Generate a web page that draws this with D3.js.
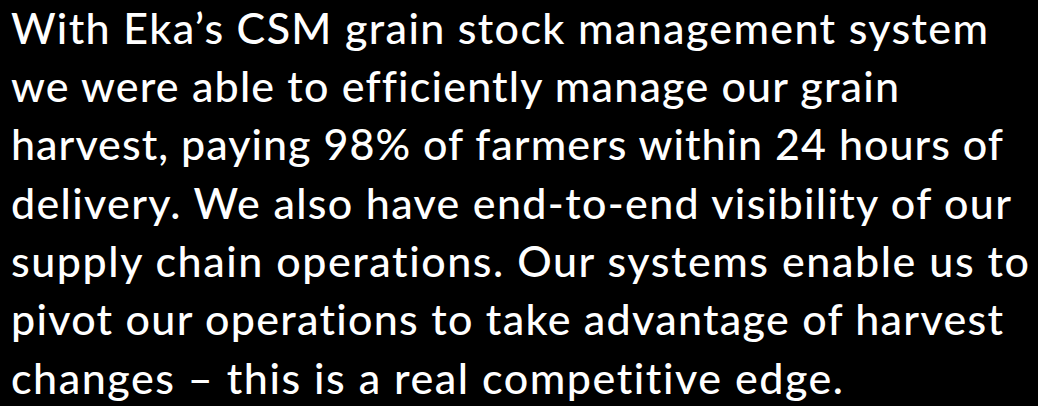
<!DOCTYPE html>
<html>
<head>
<meta charset="utf-8">
<script src="https://cdn.jsdelivr.net/npm/d3@7/dist/d3.min.js"></script>
<style>
  html, body { margin: 0; padding: 0; background: #000; }
  svg { display: block; }
</style>
</head>
<body>
<div id="chart"></div>
<script>
// Text lines of the quote (content)
const lines = [
  "With Eka\u2019s CSM grain stock management system",
  "we were able to efficiently manage our grain",
  "harvest, paying 98% of farmers within 24 hours of",
  "delivery. We also have end-to-end visibility of our",
  "supply chain operations. Our systems enable us to",
  "pivot our operations to take advantage of harvest",
  "changes \u2013 this is a real competitive edge."
];
// Right edge of each line (px)
const lineEnds = [986, 897, 1001, 1009, 1027, 1001, 841];

const W = 1038, H = 406;
const svg = d3.select("#chart").append("svg").attr("width", W).attr("height", H);
svg.append("rect").attr("width", W).attr("height", H).attr("fill", "#000");

const y = d3.scalePoint().domain(d3.range(lines.length)).range([43.5, 393.5]);
const x0 = 11;

const t = svg.selectAll("text.line").data(lines).join("text")
  .attr("class", "line")
  .attr("x", x0)
  .attr("y", (d, i) => y(i))
  .attr("fill", "#ffffff")
  .style("font-family", "Lato, 'DejaVu Sans', sans-serif")
  .style("font-size", "43px")
  .style("font-weight", 500)
  .style("font-variant-ligatures", "none")
  .style("font-feature-settings", "'liga' 0, 'clig' 0, 'dlig' 0")
  .text(d => d);

t.each(function(d, i) {
  const target = lineEnds[i] - x0 + 2;
  d3.select(this).attr("textLength", target).attr("lengthAdjust", "spacing");
});
</script>
</body>
</html>
